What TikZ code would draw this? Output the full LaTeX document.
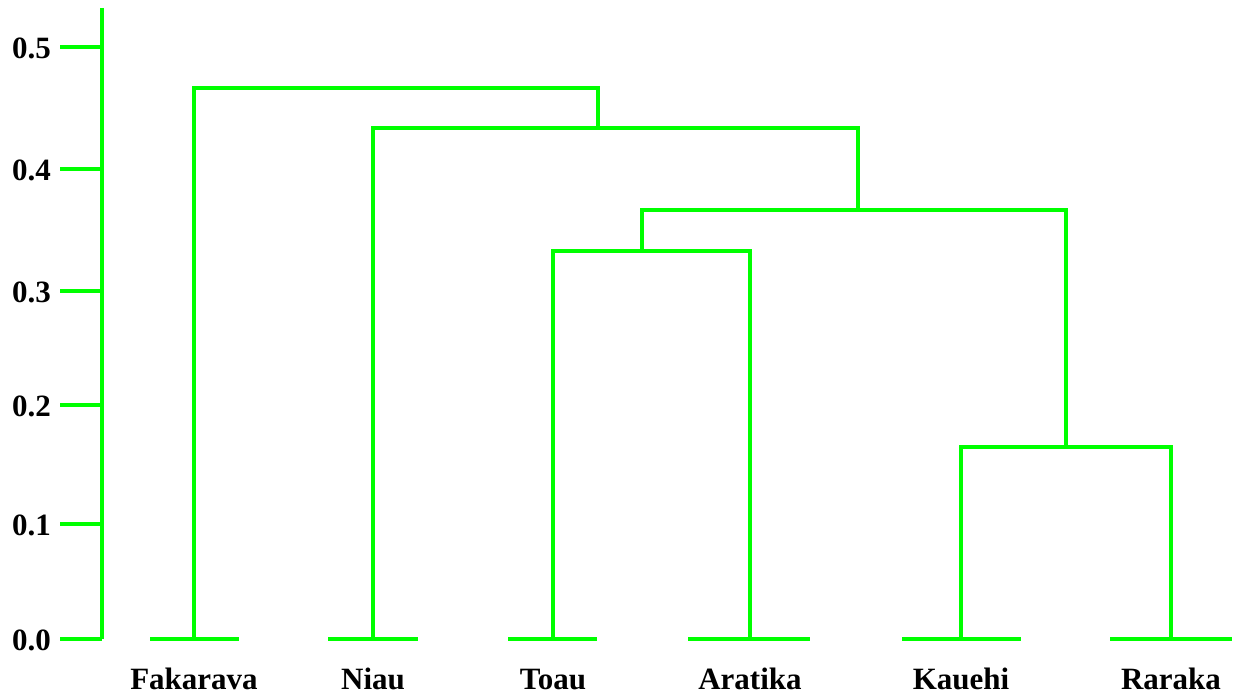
\documentclass[tikz,border=0pt]{standalone}
\usepackage{fontspec}
\setmainfont{Liberation Serif}
\definecolor{dgreen}{RGB}{0,255,0}
\begin{document}
\begin{tikzpicture}[x=1pt,y=-1pt,
  br/.style={draw=dgreen,line width=4pt},
  lbl/.style={font=\fontsize{31}{31}\selectfont\bfseries,anchor=base,inner sep=0pt},
  tlbl/.style={font=\fontsize{31}{31}\selectfont\bfseries,anchor=east,inner sep=0pt}]
\useasboundingbox (0,0) rectangle (1234,698);
% axis
\coordinate (atop) at (102,8);
\coordinate (abot) at (102,639);
\draw[br] (atop) -- (abot);
\foreach \i/\v/\y in {0/0.0/639,1/0.1/524,2/0.2/405,3/0.3/291,4/0.4/169,5/0.5/47}{
  \coordinate (t\i) at (60,\y);
  \coordinate (u\i) at (102,\y);
  \draw[br] (t\i) -- (u\i);
  \node[tlbl] (l\i) at (51,\y+1) {\v};
}
% leaves
\coordinate (fa) at (194,639);
\coordinate (ni) at (373,639);
\coordinate (to) at (553,639);
\coordinate (ar) at (750,639);
\coordinate (ka) at (961,639);
\coordinate (ra) at (1171,639);
\draw[br] (150,639) -- (239,639);
\draw[br] (328,639) -- (418,639);
\draw[br] (508,639) -- (597,639);
\draw[br] (688,639) -- (810,639);
\draw[br] (902,639) -- (1021,639);
\draw[br] (1110,639) -- (1232,639);
% joins
\coordinate (kr) at (1066,447);
\coordinate (ta) at (642,251);
\coordinate (tk) at (858,210);
\coordinate (nt) at (598,128);
\coordinate (root) at (598,88);
\draw[br] (ka) |- (kr) -| (ra);
\draw[br] (to) |- (ta) -| (ar);
\draw[br] (ta) |- (tk) -| (kr);
\draw[br] (ni) |- (nt) -| (tk);
\draw[br] (fa) |- (root) -- (nt);
% labels
\node[lbl] (nfa) at (194,689) {Fakarava};
\node[lbl] (nni) at (373,689) {Niau};
\node[lbl] (nto) at (553,689) {Toau};
\node[lbl] (nar) at (750,689) {Aratika};
\node[lbl] (nka) at (961,689) {Kauehi};
\node[lbl] (nra) at (1171,689) {Raraka};
\end{tikzpicture}
\end{document}
